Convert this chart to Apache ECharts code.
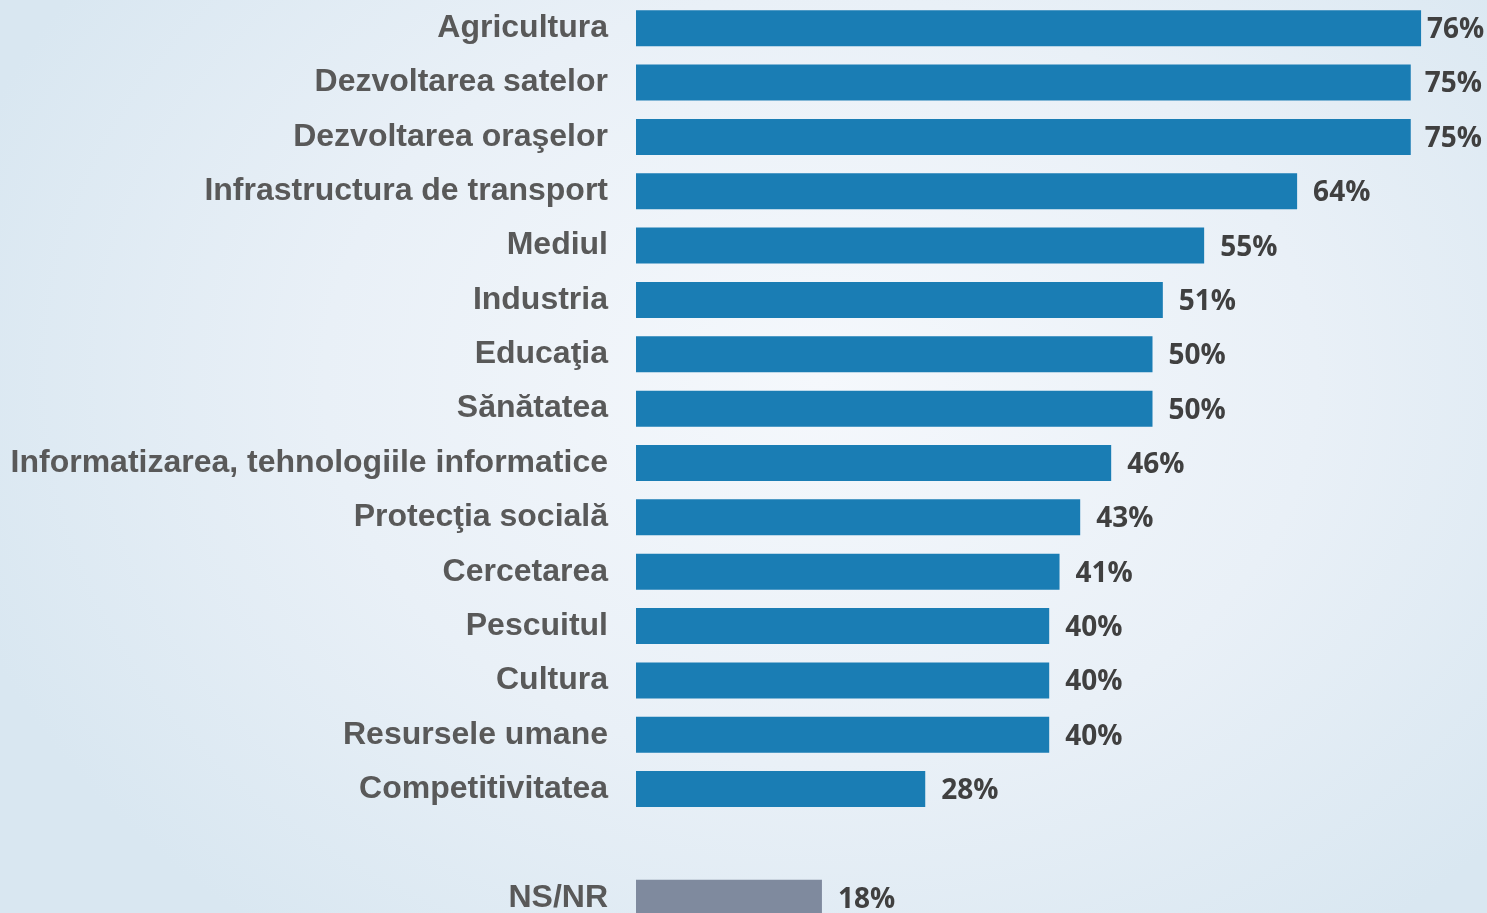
<!DOCTYPE html>
<html><head><meta charset="utf-8">
<script src="https://cdn.jsdelivr.net/npm/echarts@6/dist/echarts.min.js"></script>
<style>
html,body{margin:0;padding:0;width:1487px;height:913px;overflow:hidden;
background: radial-gradient(ellipse 900px 700px at 820px 380px, #f5f8fc 0%, #e9f0f7 55%, #d9e7f1 100%);}
#c{width:1487px;height:913px;}
</style></head>
<body><div id="c"></div>
<script>
const categories = ["Agricultura","Dezvoltarea satelor","Dezvoltarea oraşelor","Infrastructura de transport","Mediul","Industria","Educaţia","Sănătatea","Informatizarea, tehnologiile informatice","Protecţia socială","Cercetarea","Pescuitul","Cultura","Resursele umane","Competitivitatea","","NS/NR"];
const values = [76,75,75,64,55,51,50,50,46,43,41,40,40,40,28,null,18];
const barColor = "#1a7db4";
const otherColor = "#7f8a9e";

const data = values.map((v,i)=>{
  if(v===null) return null;
  const item = {value:v, itemStyle:{color: categories[i]==="NS/NR"?otherColor:barColor}};
  if(i===0) item.label = {distance:6};
  if(i===1 || i===2) item.label = {distance:14};
  return item;
});

const chart = echarts.init(document.getElementById('c'));
chart.setOption({
  backgroundColor:'transparent',
  animation:false,
  grid:{left:636, top:1, width:1033, height:924, containLabel:false, outerBoundsMode:'none'},
  xAxis:{type:'value', min:0, max:100, show:false},
  yAxis:{type:'category', inverse:true, data:categories,
    axisLine:{show:false}, axisTick:{show:false}, splitLine:{show:false},
    axisLabel:{margin:28, color:'#595959', fontFamily:'Liberation Sans, Arial, sans-serif', fontWeight:'bold', fontSize:32, padding:[2,0,0,0]}},
  series:[{type:'bar', data:data, barWidth:36,
    label:{show:true, position:'right', distance:16, offset:[0,2], formatter:'{c}%', color:'#404040',
      fontFamily:'Open Sans, sans-serif', fontWeight:'bold', fontSize:28}}]
});
</script></body></html>
